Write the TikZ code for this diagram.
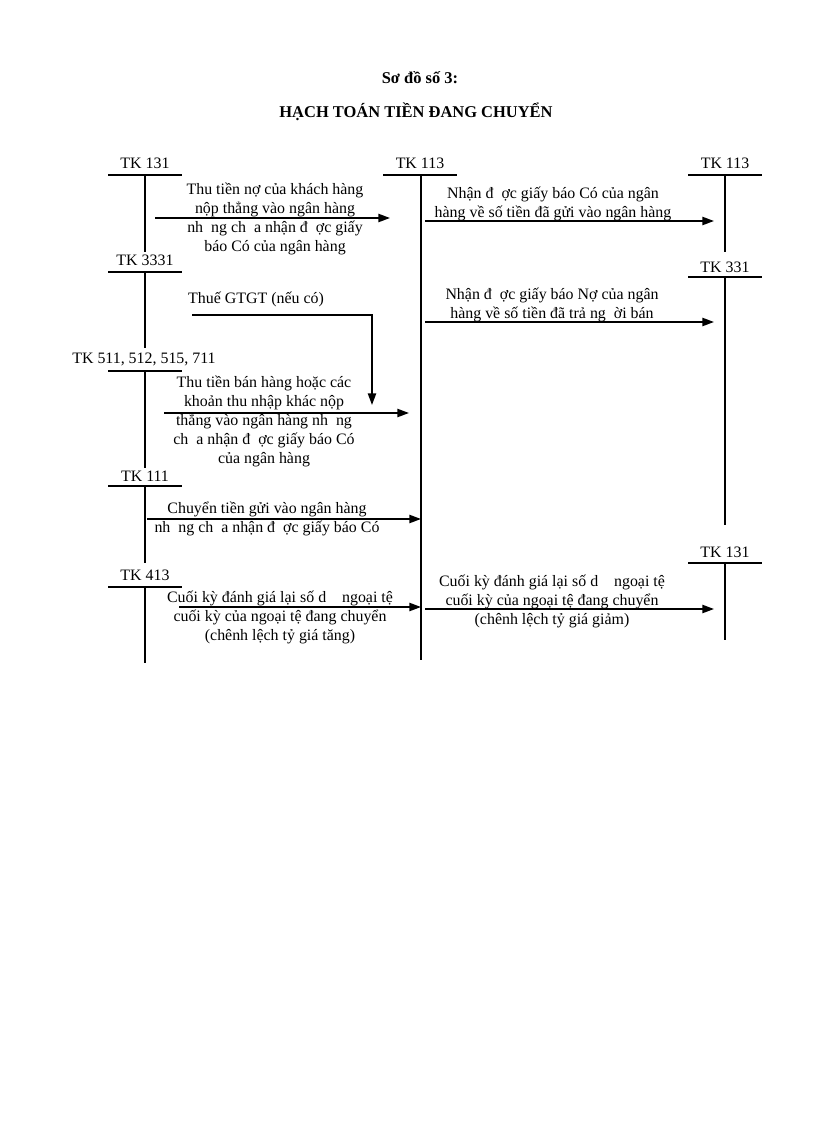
\documentclass[tikz,border=0pt]{standalone}
\usepackage{fontspec}
\setmainfont{Liberation Serif}
\usetikzlibrary{arrows.meta}
\begin{document}
\begin{tikzpicture}[x=0.729pt,y=-0.729pt,
 acct/.style={line width=1.2pt},
 flow/.style={line width=1.2pt,-{Triangle[length=8.5pt,width=6pt]}},
 lbl/.style={font=\fontsize{11.6}{13.85}\selectfont,inner sep=0pt},
 txt/.style={font=\fontsize{11.6}{13.85}\selectfont,align=center,inner sep=0pt},
 ttl/.style={font=\bfseries\fontsize{12}{13.85}\selectfont,inner sep=0pt}]
\useasboundingbox (0,0) rectangle (816,1123);
% title
\node[ttl] (t1) at (420,78) {Sơ đồ số 3:};
\node[ttl] (t2) at (416,112) {HẠCH TOÁN TIỀN ĐANG CHUYỂN};
% left accounts
\node[lbl] (l131) at (145,163) {TK 131};
\coordinate (a131L) at (108,175); \coordinate (a131R) at (182,175);
\coordinate (a131T) at (145,175); \coordinate (a131B) at (145,252);
\draw[acct] (a131L) -- (a131R); \draw[acct] (a131T) -- (a131B);

\node[lbl] (l3331) at (145,260) {TK 3331};
\coordinate (a3331L) at (108,272); \coordinate (a3331R) at (182,272);
\coordinate (a3331T) at (145,272); \coordinate (a3331B) at (145,348);
\draw[acct] (a3331L) -- (a3331R); \draw[acct] (a3331T) -- (a3331B);

\node[lbl] (l511) at (144,359) {TK 511, 512, 515, 711};
\coordinate (a511L) at (108,371); \coordinate (a511R) at (182,371);
\coordinate (a511T) at (145,371); \coordinate (a511B) at (145,468);
\draw[acct] (a511L) -- (a511R); \draw[acct] (a511T) -- (a511B);

\node[lbl] (l111) at (145,476) {TK 111};
\coordinate (a111L) at (108,486); \coordinate (a111R) at (182,486);
\coordinate (a111T) at (145,486); \coordinate (a111B) at (145,563);
\draw[acct] (a111L) -- (a111R); \draw[acct] (a111T) -- (a111B);

\node[lbl] (l413) at (145,575) {TK 413};
\coordinate (a413L) at (108,587); \coordinate (a413R) at (182,587);
\coordinate (a413T) at (145,587); \coordinate (a413B) at (145,663);
\draw[acct] (a413L) -- (a413R); \draw[acct] (a413T) -- (a413B);

% middle account
\node[lbl] (l113m) at (420,163) {TK 113};
\coordinate (m113L) at (383,175); \coordinate (m113R) at (457,175);
\coordinate (m113T) at (421,175); \coordinate (m113B) at (421,660);
\draw[acct] (m113L) -- (m113R); \draw[acct] (m113T) -- (m113B);

% right accounts
\node[lbl] (l113r) at (725,163) {TK 113};
\coordinate (r113L) at (688,175); \coordinate (r113R) at (762,175);
\coordinate (r113T) at (725,175); \coordinate (r113B) at (725,252);
\draw[acct] (r113L) -- (r113R); \draw[acct] (r113T) -- (r113B);

\node[lbl] (l331) at (725,267) {TK 331};
\coordinate (r331L) at (688,277); \coordinate (r331R) at (762,277);
\coordinate (r331T) at (725,277); \coordinate (r331B) at (725,525);
\draw[acct] (r331L) -- (r331R); \draw[acct] (r331T) -- (r331B);

\node[lbl] (l131r) at (725,552) {TK 131};
\coordinate (r131L) at (688,563); \coordinate (r131R) at (762,563);
\coordinate (r131T) at (725,563); \coordinate (r131B) at (725,640);
\draw[acct] (r131L) -- (r131R); \draw[acct] (r131T) -- (r131B);

% arrow 1
\coordinate (f1s) at (155,218); \coordinate (f1e) at (390,218);
\draw[flow] (f1s) -- (f1e);
\node[txt] (x1) at (275,219) {Thu tiền nợ của khách hàng\\nộp thẳng vào ngân hàng\\nh\enspace ng ch\enspace a nhận đ\enspace ợc giấy\\báo Có của ngân hàng};

% arrow 2
\coordinate (f2s) at (425,221); \coordinate (f2e) at (714,221);
\draw[flow] (f2s) -- (f2e);
\node[txt] (x2) at (553,204) {Nhận đ\enspace ợc giấy báo Có của ngân\\hàng về số tiền đã gửi vào ngân hàng};

% arrow 3
\coordinate (f3s) at (425,322); \coordinate (f3e) at (714,322);
\draw[flow] (f3s) -- (f3e);
\node[txt] (x3) at (552,305) {Nhận đ\enspace ợc giấy báo Nợ của ngân\\hàng về số tiền đã trả ng\enspace ời bán};

% arrow 4 (VAT)
\node[lbl] (x4) at (256,299) {Thuế GTGT (nếu có)};
\coordinate (f4s) at (192,315); \coordinate (f4c) at (372,315); \coordinate (f4e) at (372,405);
\draw[flow] (f4s) -- (f4c) -- (f4e);

% arrow 5
\coordinate (f5s) at (164,413); \coordinate (f5e) at (409,413);
\draw[flow] (f5s) -- (f5e);
\node[txt] (x5) at (264,421) {Thu tiền bán hàng hoặc các\\khoản thu nhập khác nộp\\thẳng vào ngân hàng nh\enspace ng\\ch\enspace a nhận đ\enspace ợc giấy báo Có\\của ngân hàng};

% arrow 6
\coordinate (f6s) at (147,519); \coordinate (f6e) at (421,519);
\draw[flow] (f6s) -- (f6e);
\node[txt] (x6) at (267,519) {Chuyển tiền gửi vào ngân hàng\\nh\enspace ng ch\enspace a nhận đ\enspace ợc giấy báo Có};

% arrow 7
\coordinate (f7s) at (179,607); \coordinate (f7e) at (421,607);
\draw[flow] (f7s) -- (f7e);
\node[txt] (x7) at (280,617) {Cuối kỳ đánh giá lại số d\enspace\enspace ngoại tệ\\cuối kỳ của ngoại tệ đang chuyển\\(chênh lệch tỷ giá tăng)};

% arrow 8
\coordinate (f8s) at (425,609); \coordinate (f8e) at (714,609);
\draw[flow] (f8s) -- (f8e);
\node[txt] (x8) at (552,601) {Cuối kỳ đánh giá lại số d\enspace\enspace ngoại tệ\\cuối kỳ của ngoại tệ đang chuyển\\(chênh lệch tỷ giá giảm)};
\end{tikzpicture}
\end{document}
